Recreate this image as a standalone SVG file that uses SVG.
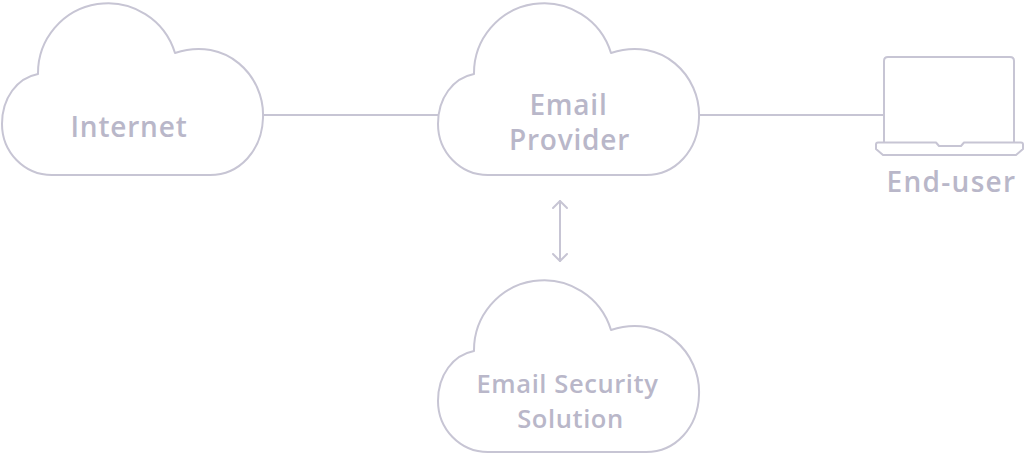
<svg xmlns="http://www.w3.org/2000/svg" xmlns:xlink="http://www.w3.org/1999/xlink" width="1024" height="454" viewBox="0 0 1024 454">
<style>
.shape{fill:none;stroke:#c7c5d4;stroke-width:2;stroke-linejoin:round;stroke-linecap:round}
.lbl{font-family:"Open Sans","Noto Sans","Liberation Sans",sans-serif;font-weight:600;font-size:28px;fill:#b9b7c9;text-anchor:middle;letter-spacing:0.8px}
.sec{font-size:25.5px;letter-spacing:0.6px}
</style>
<defs>
<path id="cloud" class="shape" d="M 52,175 C 24,175 2,152 2,124 C 2,98 17,78 38,74 A 70 70 0 0 1 175,53 C 226,36 265,76 263,118 C 262,150 240,175 210,175 Z"/>
</defs>
<rect width="1024" height="454" fill="#ffffff"/>
<g id="connectors">
<line class="shape" x1="263" y1="115" x2="438" y2="115"/>
<line class="shape" x1="700" y1="115" x2="884" y2="115"/>
<line class="shape" x1="560" y1="201" x2="560" y2="261"/>
<polyline class="shape" points="553,208 560,201 567,208"/>
<polyline class="shape" points="553,254 560,261 567,254"/>
</g>
<g id="internet">
<use xlink:href="#cloud" href="#cloud"/>
<text class="lbl" x="129" y="137">Internet</text>
</g>
<g id="email-provider">
<use xlink:href="#cloud" href="#cloud" transform="translate(436,0)"/>
<text class="lbl" x="568.5" y="114.5">Email</text>
<text class="lbl" x="569.5" y="150">Provider</text>
</g>
<g id="email-security">
<use xlink:href="#cloud" href="#cloud" transform="translate(436,277)"/>
<text class="lbl sec" x="567.5" y="393">Email Security</text>
<text class="lbl sec" x="570.5" y="428">Solution</text>
</g>
<g id="end-user">
<path class="shape" d="M 884,142 V 61 Q 884,57 888,57 H 1010 Q 1014,57 1014,61 V 142"/>
<path class="shape" d="M 878,142.5 H 936 L 939,146 H 961 L 964,142.5 H 1021 Q 1023,142.5 1023,144.5 V 149 L 1016,155 H 883 L 876,149 V 144.5 Q 876,142.5 878,142.5 Z"/>
<text class="lbl" x="951.5" y="192" style="letter-spacing:1.3px">End-user</text>
</g>
</svg>
